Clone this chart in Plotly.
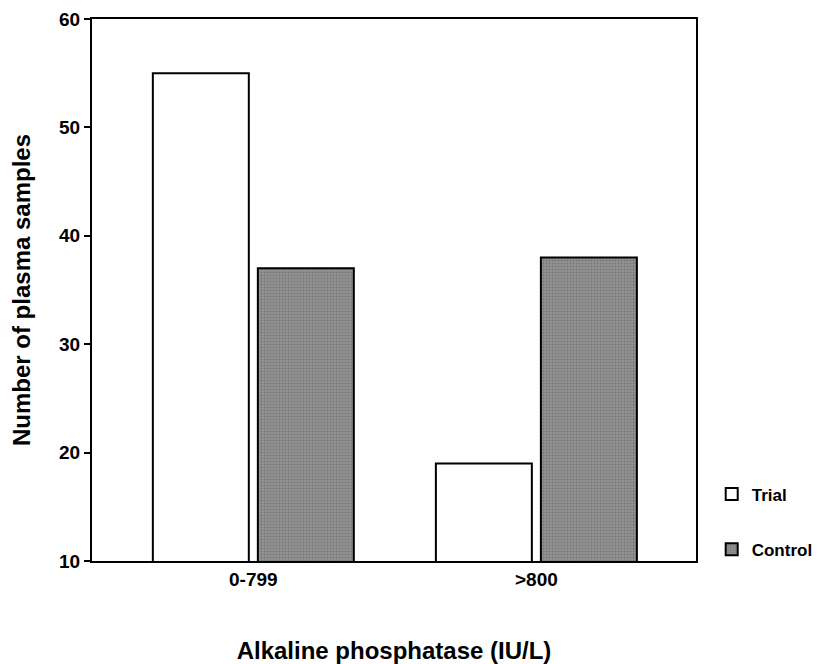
import plotly.graph_objects as go

categories = ["0-799", ">800"]
trial = [55, 19]
control = [37, 38]

font_family = "Liberation Sans, Arial, sans-serif"

fig = go.Figure()

fig.add_trace(go.Bar(
    x=categories,
    y=trial,
    name="Trial",
    legendgroup="trial",
    marker=dict(color="white", line=dict(color="black", width=2)),
))

fig.add_trace(go.Bar(
    x=categories,
    y=control,
    name="Control",
    legendgroup="control",
    marker=dict(
        color="#8a8a8a",
        line=dict(color="black", width=2),
        pattern=dict(shape=".", fgcolor="#5a5a5a", bgcolor="#939393",
                     size=3, solidity=0.35),
    ),
))

# page has an 8px body margin, so the figure is sized to fit inside it
fig.update_layout(
    width=815,
    height=656,
    barmode="group",
    bargap=0.258,
    bargroupgap=0.086,
    plot_bgcolor="white",
    paper_bgcolor="white",
    margin=dict(l=84, r=127, t=11, b=103, autoexpand=False),
    font=dict(family=font_family, color="black", size=19, weight="bold"),
    legend=dict(
        x=1.026,
        xanchor="left",
        y=-0.012,
        yanchor="bottom",
        tracegroupgap=30,
        font=dict(size=17, weight="bold"),
        bgcolor="rgba(0,0,0,0)",
    ),
)

fig.update_xaxes(
    range=[-0.57, 1.564],
    showline=True,
    linecolor="black",
    linewidth=2,
    mirror=True,
    showgrid=False,
    ticks="",
    tickfont=dict(size=19, weight="bold"),
    title=dict(text="Alkaline phosphatase (IU/L)",
               font=dict(size=24, weight="bold"), standoff=54),
)

fig.update_yaxes(
    range=[10, 60],
    tickvals=[10, 20, 30, 40, 50, 60],
    showline=True,
    linecolor="black",
    linewidth=2,
    mirror=True,
    showgrid=False,
    zeroline=False,
    ticks="outside",
    ticklen=6,
    tickwidth=2,
    tickcolor="black",
    tickfont=dict(size=19, weight="bold"),
    title=dict(text="Number of plasma samples",
               font=dict(size=24, weight="bold"), standoff=22),
)

fig.write_html("out.html")
